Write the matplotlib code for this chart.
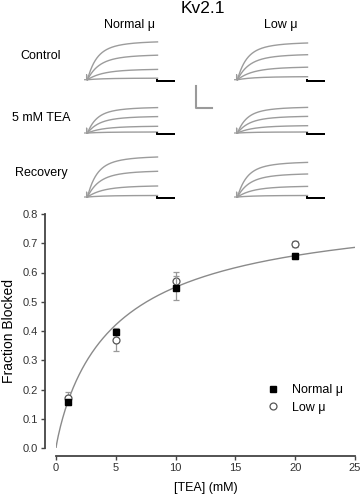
import numpy as np
import matplotlib
matplotlib.use("Agg")
import matplotlib.pyplot as plt
from matplotlib.lines import Line2D

plt.rcParams['font.family'] = ['Liberation Sans', 'DejaVu Sans']

W, H = 361, 500

# ---------------- data ----------------
tea_mM = [1, 5, 10, 20]
normal_frac = [0.157, 0.398, 0.547, 0.657]
normal_err = [0.01, 0.012, 0.04, 0.01]
low_frac = [0.170, 0.368, 0.572, 0.697]
low_err = [0.02, 0.036, 0.03, 0.01]

# Hill fit parameters of the drawn curve
fit_fmax = 0.85
fit_k = 5.1
fit_n = 0.9

x_ticks = [0, 5, 10, 15, 20, 25]
y_ticks = [0.0, 0.1, 0.2, 0.3, 0.4, 0.5, 0.6, 0.7, 0.8]

# example current traces (amplitude at end of pulse, arbitrary units)
rows = ["Control", "5 mM TEA", "Recovery"]
cols = ["Normal \u03bc", "Low \u03bc"]
trace_amps = {
    ("Control", "Normal \u03bc"): [37.8, 24.5, 10.3, 1.5],
    ("Control", "Low \u03bc"): [36.7, 25.0, 12.5, 3.0],
    ("5 mM TEA", "Normal \u03bc"): [25.4, 16.4, 6.7, 1.0],
    ("5 mM TEA", "Low \u03bc"): [25.6, 16.6, 7.3, 1.0],
    ("Recovery", "Normal \u03bc"): [40.0, 25.7, 11.0, 1.5],
    ("Recovery", "Low \u03bc"): [34.6, 23.0, 10.6, 1.5],
}
# activation kinetics: fast / slow time constants (ms) and fast fraction
tau_fast = [8, 10, 13, 14]
tau_slow = [24, 27, 33, 36]
fast_frac = 0.65
pulse_ms = 70
tail_ms = 17
scale_bar = (16, 21)

# ---------------- figure ----------------
fig = plt.figure(figsize=(W / 100, H / 100), dpi=100)


def px_axes(left, top, width, height):
    return fig.add_axes([left / W, 1 - (top + height) / H, width / W, height / H])


def fx(x):
    return x / W


def fy(y):
    return 1 - y / H


trace_color = '#9c9c9c'

fig.text(fx(203), fy(13), "Kv2.1", ha='center', va='baseline', fontsize=12.5)
col_left = [84, 234]
col_title_x = [130, 281]
row_base = [79.7, 133.0, 197.0]
row_label_y = [56, 118, 173]

for j, c in enumerate(cols):
    fig.text(fx(col_title_x[j]), fy(25), c, ha='center', va='center', fontsize=9)
for i, r in enumerate(rows):
    fig.text(fx(41), fy(row_label_y[i]), r, ha='center', va='center', fontsize=9)

t = np.linspace(0, pulse_ms, 400)
for i, r in enumerate(rows):
    for j, c in enumerate(cols):
        ax = px_axes(col_left[j], row_base[i] - 42, 91, 46)
        ax.set_xlim(-2, 89)
        ax.set_ylim(-4, 42)
        ax.axis('off')
        ax.plot([-1.5, 0.6, 0.6, 0.9], [0, 0, 5, 0], color=trace_color, lw=0.9)
        for amp, tf, ts in zip(trace_amps[(r, c)], tau_fast, tau_slow):
            shape = 1 - fast_frac * np.exp(-t / tf) - (1 - fast_frac) * np.exp(-t / ts)
            cur = amp * shape / shape[-1]
            ax.plot(t + 1.5, cur, color=trace_color, lw=1.0)
            ax.plot([pulse_ms + 1, pulse_ms + 1, pulse_ms + 1 + tail_ms],
                    [0, -1.0, -1.0], color='black', lw=1.2)

# scale bar
sb = px_axes(190, 82, 30, 30)
sb.set_xlim(-5.7, 24.3)
sb.set_ylim(-4.5, 25.5)
sb.axis('off')
sb.plot([0, 0, scale_bar[0]], [scale_bar[1], 0, 0], color='#9a9a9a', lw=1.5)

# ---------------- dose-response ----------------
ax = px_axes(56, 214, 299, 234)
ax.set_xlim(0, 25)
ax.set_ylim(0, 0.8)

xc = np.linspace(0.001, 25, 400)
yc = fit_fmax / (1 + (fit_k / xc) ** fit_n)
ax.plot(np.concatenate([[0], xc]), np.concatenate([[0], yc]), color='#8a8a8a', lw=1.0, zorder=2)

ax.errorbar(tea_mM, low_frac, yerr=low_err, fmt='o', ms=5, mfc='white', mec='#555555',
            mew=0.9, ecolor='#999999', elinewidth=0.9, capsize=2.5, capthick=0.9,
            zorder=3, label="Low \u03bc", clip_on=False)
ax.errorbar(tea_mM, normal_frac, yerr=normal_err, fmt='s', ms=5, mfc='black', mec='black',
            ecolor='#999999', elinewidth=0.9, capsize=2.5, capthick=0.9,
            zorder=4, label="Normal \u03bc", clip_on=False)

for s in ['top', 'right']:
    ax.spines[s].set_visible(False)
ax.spines['left'].set_position(('outward', 8))
ax.spines['bottom'].set_position(('outward', 6))
ax.spines['left'].set_bounds(0, 0.8)
ax.spines['bottom'].set_bounds(0, 25)
for s in ['left', 'bottom']:
    ax.spines[s].set_color('#444444')
    ax.spines[s].set_linewidth(1.3)
ax.set_xticks(x_ticks)
ax.set_yticks(y_ticks)
ax.set_yticklabels([f"{v:.1f}" for v in y_ticks])
ax.tick_params(direction='out', length=3, width=1, colors='#444444', labelsize=8, pad=2)
ax.tick_params(labelcolor='#333333')
ax.set_xlabel("[TEA] (mM)", fontsize=9, labelpad=6)
ax.set_ylabel("Fraction Blocked", fontsize=10, labelpad=5)

handles = [Line2D([], [], marker='s', ls='none', ms=5, mfc='black', mec='black'),
           Line2D([], [], marker='o', ls='none', ms=5, mfc='white', mec='#555555', mew=0.9)]
ax.legend(handles, ["Normal \u03bc", "Low \u03bc"], loc='upper left',
          bbox_to_anchor=(fx(267), fy(384)), bbox_transform=fig.transFigure,
          frameon=False, fontsize=9, handlelength=1.0, handletextpad=1.0,
          borderpad=0, borderaxespad=0, labelspacing=0.45)

fig.savefig("out.png", dpi=100)
